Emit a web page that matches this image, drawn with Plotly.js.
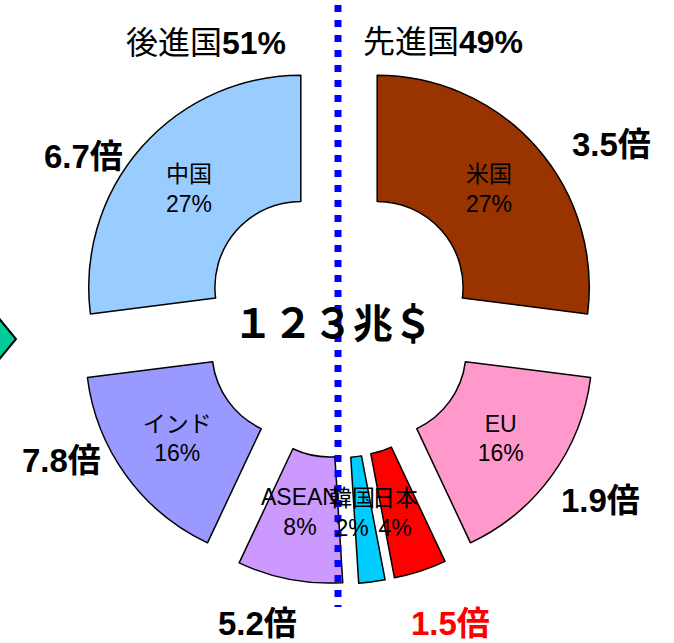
<!DOCTYPE html>
<html><head><meta charset="utf-8">
<script src="https://cdn.plot.ly/plotly-3.0.1.min.js"></script>
<style>html,body{margin:0;padding:0;background:#fff}</style>
</head><body><div id="chart" style="width:674px;height:643px"></div>
<script>
// ---- data ----
const labels = ['米国', 'EU', '日本', '韓国', 'ASEAN', 'インド', '中国'];
const values = [27, 16, 4, 2, 8, 16, 27];
const colors = ['#993300', '#FF99CC', '#FF0000', '#00CCFF', '#CC99FF', '#9999FF', '#99CCFF'];
const multiplierLabels = ['3.5倍', '1.9倍', '1.5倍', '5.2倍', '7.8倍', '6.7倍'];
const groupLabels = ['先進国49%', '後進国51%'];
const totalLabel = '１２３兆＄';
const smallSlices = ['日本', '韓国', 'ASEAN'];

// ---- layout helpers ----
const W = 674, H = 643;
const px = x => x / W;
const py = y => 1 - y / H;
const FONT = 'Liberation Sans Narrow, Liberation Sans, Arial, Noto Sans CJK JP, sans-serif';

const pct = v => Math.round(v / values.reduce((a, b) => a + b, 0) * 100) + '%';

const trace = {
  type: 'pie',
  labels: labels,
  values: values,
  sort: false,
  direction: 'clockwise',
  rotation: 0,
  hole: 0.405,
  pull: labels.map(() => 0.24),
  marker: {colors: colors, line: {color: '#000', width: 1.5}},
  texttemplate: '%{label}<br>%{percent}',
  textposition: labels.map(l => smallSlices.includes(l) ? 'none' : 'inside'),
  insidetextorientation: 'horizontal',
  insidetextfont: {family: FONT, size: 23, color: '#000'},
  hoverinfo: 'none',
  domain: {x: [px(339 - 263), px(339 + 263)], y: [py(321 + 263), py(321 - 263)]}
};

const smallPos = {'ASEAN': [300, 512], '韓国': [352, 513], '日本': [395, 513]};
const annotations = [];
smallSlices.forEach(l => {
  const i = labels.indexOf(l);
  annotations.push({
    xref: 'paper', yref: 'paper', x: px(smallPos[l][0]), y: py(smallPos[l][1]),
    text: l + '<br>' + pct(values[i]), showarrow: false,
    font: {family: FONT, size: 23, color: '#000'}, xanchor: 'center', yanchor: 'middle'
  });
});

const multPos = [[611, 145], [600, 500], [450, 623], [257, 623], [61, 460], [83, 156]];
const multColors = ['#000', '#000', '#FF0000', '#000', '#000', '#000'];
multiplierLabels.forEach((t, i) => {
  annotations.push({
    xref: 'paper', yref: 'paper', x: px(multPos[i][0]), y: py(multPos[i][1]),
    text: '<b>' + t + '</b>', showarrow: false,
    font: {family: 'Liberation Sans, Arial, Noto Sans CJK JP, sans-serif', size: 33, color: multColors[i]},
    xanchor: 'center', yanchor: 'middle'
  });
});

const groupPos = [[443, 42], [206, 43]];
groupLabels.forEach((t, i) => {
  const m = t.match(/^(\D+)(\d+%)$/);
  annotations.push({
    xref: 'paper', yref: 'paper', x: px(groupPos[i][0]), y: py(groupPos[i][1]),
    text: m[1] + '<b>' + m[2] + '</b>', showarrow: false,
    font: {family: FONT, size: 32, color: '#000'},
    xanchor: 'center', yanchor: 'middle'
  });
});

annotations.push({
  xref: 'paper', yref: 'paper', x: px(333), y: py(321),
  text: '<b>' + totalLabel + '</b>', showarrow: false,
  font: {family: 'Noto Sans CJK JP, sans-serif', size: 40, color: '#000'},
  xanchor: 'center', yanchor: 'middle'
});

const shapes = [
  {
    type: 'path', xref: 'paper', yref: 'paper', layer: 'above',
    path: `M ${px(-12)},${py(305)} L ${px(16)},${py(339)} L ${px(-12)},${py(373)} Z`,
    fillcolor: '#00CC99', line: {color: '#000', width: 2}
  },
  {
    type: 'line', xref: 'paper', yref: 'paper', layer: 'above',
    x0: px(338), x1: px(338), y0: py(5), y1: py(607),
    line: {color: '#0000FF', width: 7, dash: '7px,8px'}
  }
];

const layout = {
  width: W, height: H,
  margin: {l: 0, r: 0, t: 0, b: 0},
  paper_bgcolor: '#fff', plot_bgcolor: '#fff',
  showlegend: false,
  annotations: annotations,
  shapes: shapes
};

Plotly.newPlot('chart', [trace], layout, {displayModeBar: false, staticPlot: true});
</script>
</body></html>
